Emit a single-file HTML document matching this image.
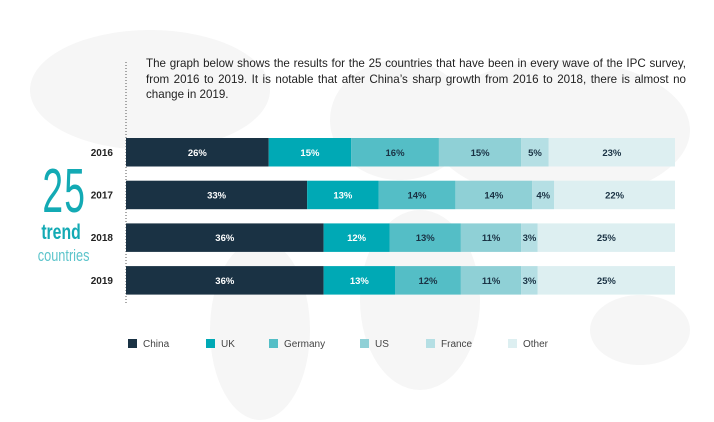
<!DOCTYPE html>
<html><head><meta charset="utf-8"><style>
body{margin:0;width:714px;height:422px;background:#fff;position:relative;overflow:hidden;font-family:"Liberation Sans",sans-serif}
.intro{position:absolute;left:146px;top:56px;width:540px;font-size:11.6px;line-height:15.5px;color:#222}
.intro .j{text-align:justify;text-align-last:justify;white-space:nowrap}
.big{position:absolute;left:30px;top:164px;width:62px;text-align:center;color:#13aab4;font-family:"Liberation Sans Narrow","Liberation Sans",sans-serif}
.leg{position:absolute;top:339px;font-size:10px;color:#444}
.leg span{display:inline-block;width:9px;height:9px;vertical-align:-1px;margin-right:6px}
</style></head><body>
<svg style="position:absolute;left:0;top:0" width="714" height="422">
<g fill="#f6f6f6">
<ellipse cx="150" cy="90" rx="120" ry="60"/><ellipse cx="260" cy="330" rx="50" ry="90"/>
<ellipse cx="400" cy="120" rx="70" ry="60"/><ellipse cx="420" cy="300" rx="60" ry="90"/>
<ellipse cx="560" cy="130" rx="130" ry="70"/><ellipse cx="640" cy="330" rx="50" ry="35"/>
</g></svg>
<div class="intro"><div class="j">The graph below shows the results for the 25 countries that have been in every wave of the IPC survey,</div><div class="j">from 2016 to 2019. It is notable that after China’s sharp growth from 2016 to 2018, there is almost no</div><div>change in 2019.</div></div>
<div class="big">
<div style="font-size:62px;font-weight:100;line-height:56px;transform:scaleX(0.6);letter-spacing:2px">25</div>
<div style="font-size:21px;font-weight:bold;line-height:26px;transform:scaleX(0.75)">trend</div>
<div style="font-size:17px;line-height:20px;color:#5cc4cb;transform:scaleX(0.75)">countries</div>
</div>
<svg id="chart" style="position:absolute;left:0;top:0" width="714" height="422"></svg>
<div id="legend"></div>
<script>
const years=["2016","2017","2018","2019"];
const series=["China","UK","Germany","US","France","Other"];
const china=[26,33,36,36];
const uk=[15,13,12,13];
const germany=[16,14,13,12];
const us=[15,14,11,11];
const france=[5,4,3,3];
const other=[23,22,25,25];
const vals=[china,uk,germany,us,france,other];
const colors=["#1a3244","#00a9b5","#54bec6","#8fd0d6","#b5dfe4","#ddeff1"];
const textCol=["#fff","#fff","#1a3244","#1a3244","#1a3244","#1a3244"];
const NS="http://www.w3.org/2000/svg";
const svg=document.getElementById('chart');
const x0=126,w=549,y0=138,step=42.7,bh=28.5;
const xs=v=>v/100*w;
const yOf=i=>y0+i*step;
const ax=document.createElementNS(NS,'line');
ax.setAttribute('x1',126);ax.setAttribute('x2',126);ax.setAttribute('y1',62);ax.setAttribute('y2',305);
ax.setAttribute('stroke','#555');ax.setAttribute('stroke-dasharray','1,2');


svg.appendChild(ax);
years.forEach((yr,i)=>{
  const tot=vals.reduce((s,a)=>s+a[i],0);
  const lab=document.createElementNS(NS,'text');
  lab.setAttribute('x',113);lab.setAttribute('y',yOf(i)+bh/2+3.5);lab.setAttribute('text-anchor','end');
  lab.setAttribute('font-size','10');lab.setAttribute('font-weight','bold');lab.setAttribute('fill','#222');
  lab.textContent=yr;
  
  
  svg.appendChild(lab);
  let c=0;
  vals.forEach((arr,s)=>{
    const v=arr[i]*100/tot;
    const r=document.createElementNS(NS,'rect');
    r.setAttribute('x',x0+xs(c));r.setAttribute('y',yOf(i));r.setAttribute('width',xs(v));r.setAttribute('height',bh);
    r.setAttribute('fill',colors[s]);
    
    
    svg.appendChild(r);
    const t=document.createElementNS(NS,'text');
    t.setAttribute('x',x0+xs(c+v/2));t.setAttribute('y',yOf(i)+bh/2+3.5);t.setAttribute('text-anchor','middle');
    t.setAttribute('font-size','9.5');t.setAttribute('font-weight','bold');t.setAttribute('fill',textCol[s]);
    t.textContent=arr[i]+'%';
    
    
    svg.appendChild(t);
    c+=v;
  });
});
const legX=[128,206,269,360,426,508];
const lg=document.getElementById('legend');
series.forEach((s,k)=>{
  const d=document.createElement('div');
  d.className='leg';d.style.left=legX[k]+'px';
  d.innerHTML='<span style="background:'+colors[k]+'"></span>'+s;
  
  
  lg.appendChild(d);
});
</script>
</body></html>
